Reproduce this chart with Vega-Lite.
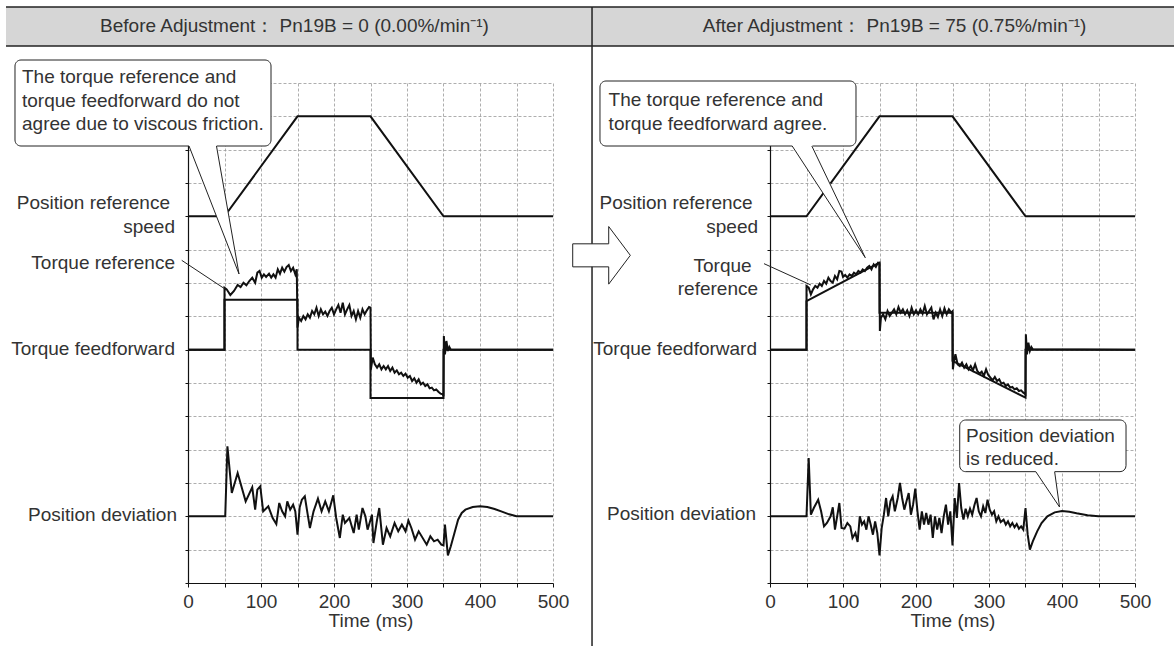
{
  "$schema": "https://vega.github.io/schema/vega-lite/v6.json",
  "padding": {"left": 5, "top": 6, "right": 0, "bottom": 0},
  "spacing": 217,
  "bounds": "flush",
  "config": {
    "view": {"stroke": null},
    "font": "Liberation Sans",
    "axis": {
      "domainColor": "#111", "domainWidth": 1.2, "tickColor": "#111", "tickWidth": 1,
      "labelFont": "Liberation Sans", "labelFontSize": 19, "labelColor": "#333",
      "titleFont": "Liberation Sans", "titleFontSize": 19, "titleFontWeight": "normal", "titleColor": "#333",
      "gridColor": "#999", "gridDash": [3, 2], "gridWidth": 0.8
    },
    "text": {"font": "Liberation Sans", "fontSize": 19, "fill": "#333"}
  },
  "hconcat": [
    {
      "width": 365, "height": 500,
      "encoding": {
        "x": {"field": "t", "type": "quantitative", "scale": {"domain": [0, 500], "nice": false, "zero": false},
          "axis": {"values": [0, 50, 100, 150, 200, 250, 300, 350, 400, 450, 500], "labelExpr": "datum.value % 100 === 0 ? datum.label : ''", "title": "Time (ms)", "grid": true, "tickSize": 4, "labelPadding": 5, "titlePadding": 0, "labelFlush": false, "labelOverlap": false}},
        "y": {"field": "v", "type": "quantitative", "scale": {"domain": [0, 15], "nice": false, "zero": false},
          "axis": {"values": [0, 1, 2, 3, 4, 5, 6, 7, 8, 9, 10, 11, 12, 13, 14, 15], "labels": false, "title": null, "grid": true, "tickSize": 3}}
      },
      "layer": [
        {"data": {"values": [{"t": -249.3, "t2": 553.4, "v": 17.28, "v2": 16.11}]},
          "mark": {"type": "rect", "fill": "#d6d6d6", "stroke": null},
          "encoding": {"x2": {"field": "t2"}, "y2": {"field": "v2"}}},
        {"data": {"values": [{"t": -249.3, "t2": 553.4, "v": 17.28}, {"t": -249.3, "t2": 553.4, "v": 16.11}]},
          "mark": {"type": "rule", "color": "#222", "strokeWidth": 1.5},
          "encoding": {"x2": {"field": "t2"}}},
        {"data": {"values": [{"t": 145.9, "v": 16.7, "txt": "Before Adjustment： Pn19B = 0 (0.00%/min⁻¹)"}]},
          "mark": {"type": "text", "align": "center", "baseline": "middle"},
          "encoding": {"text": {"field": "txt"}}},
        {"data": {"values": [
          {"s": "spd", "t": 0, "v": 11}, {"s": "spd", "t": 50, "v": 11}, {"s": "spd", "t": 150, "v": 14}, {"s": "spd", "t": 250, "v": 14}, {"s": "spd", "t": 350, "v": 11}, {"s": "spd", "t": 500, "v": 11},
          {"s": "ff", "t": 0, "v": 7}, {"s": "ff", "t": 50, "v": 7}, {"s": "ff", "t": 50, "v": 8.5}, {"s": "ff", "t": 150, "v": 8.5}, {"s": "ff", "t": 150, "v": 7}, {"s": "ff", "t": 250, "v": 7}, {"s": "ff", "t": 250, "v": 5.55}, {"s": "ff", "t": 350, "v": 5.55}, {"s": "ff", "t": 350, "v": 7}, {"s": "ff", "t": 500, "v": 7},
          {"s": "ref", "t": 0, "v": 7}, {"s": "ref", "t": 50, "v": 7}, {"s": "ref", "t": 50, "v": 8.86}, {"s": "ref", "t": 53, "v": 8.81}, {"s": "ref", "t": 58, "v": 8.64}, {"s": "ref", "t": 63, "v": 8.76}, {"s": "ref", "t": 68, "v": 8.94}, {"s": "ref", "t": 72, "v": 8.88}, {"s": "ref", "t": 76, "v": 9.01}, {"s": "ref", "t": 80, "v": 8.93}, {"s": "ref", "t": 84, "v": 9.06}, {"s": "ref", "t": 88, "v": 9.16}, {"s": "ref", "t": 92, "v": 9.01}, {"s": "ref", "t": 95, "v": 9.31}, {"s": "ref", "t": 98, "v": 9.36}, {"s": "ref", "t": 101, "v": 9.16}, {"s": "ref", "t": 104, "v": 9.26}, {"s": "ref", "t": 107, "v": 9.18}, {"s": "ref", "t": 111, "v": 9.28}, {"s": "ref", "t": 114, "v": 9.16}, {"s": "ref", "t": 117, "v": 9.26}, {"s": "ref", "t": 120, "v": 9.16}, {"s": "ref", "t": 123, "v": 9.41}, {"s": "ref", "t": 126, "v": 9.28}, {"s": "ref", "t": 129, "v": 9.46}, {"s": "ref", "t": 132, "v": 9.34}, {"s": "ref", "t": 135, "v": 9.48}, {"s": "ref", "t": 138, "v": 9.54}, {"s": "ref", "t": 141, "v": 9.36}, {"s": "ref", "t": 144, "v": 9.46}, {"s": "ref", "t": 147, "v": 9.26}, {"s": "ref", "t": 149, "v": 9.41}, {"s": "ref", "t": 150, "v": 7.66}, {"s": "ref", "t": 152, "v": 7.96}, {"s": "ref", "t": 155, "v": 7.86}, {"s": "ref", "t": 158, "v": 8.01}, {"s": "ref", "t": 161, "v": 7.91}, {"s": "ref", "t": 164, "v": 8.06}, {"s": "ref", "t": 167, "v": 7.96}, {"s": "ref", "t": 170, "v": 8.16}, {"s": "ref", "t": 173, "v": 8.06}, {"s": "ref", "t": 176, "v": 8.26}, {"s": "ref", "t": 179, "v": 8.01}, {"s": "ref", "t": 182, "v": 8.21}, {"s": "ref", "t": 185, "v": 8.06}, {"s": "ref", "t": 188, "v": 8.14}, {"s": "ref", "t": 191, "v": 8.01}, {"s": "ref", "t": 194, "v": 8.16}, {"s": "ref", "t": 197, "v": 8.26}, {"s": "ref", "t": 200, "v": 8.06}, {"s": "ref", "t": 203, "v": 8.21}, {"s": "ref", "t": 206, "v": 8.34}, {"s": "ref", "t": 209, "v": 8.11}, {"s": "ref", "t": 212, "v": 8.41}, {"s": "ref", "t": 215, "v": 8.06}, {"s": "ref", "t": 218, "v": 8.21}, {"s": "ref", "t": 221, "v": 8.34}, {"s": "ref", "t": 224, "v": 8.01}, {"s": "ref", "t": 227, "v": 8.16}, {"s": "ref", "t": 230, "v": 7.91}, {"s": "ref", "t": 233, "v": 8.16}, {"s": "ref", "t": 236, "v": 7.96}, {"s": "ref", "t": 239, "v": 8.21}, {"s": "ref", "t": 242, "v": 8.06}, {"s": "ref", "t": 245, "v": 8.18}, {"s": "ref", "t": 248, "v": 8.28}, {"s": "ref", "t": 250, "v": 8.26}, {"s": "ref", "t": 250.5, "v": 6.4}, {"s": "ref", "t": 253, "v": 6.76}, {"s": "ref", "t": 256, "v": 6.56}, {"s": "ref", "t": 259, "v": 6.46}, {"s": "ref", "t": 262, "v": 6.56}, {"s": "ref", "t": 265, "v": 6.41}, {"s": "ref", "t": 268, "v": 6.51}, {"s": "ref", "t": 271, "v": 6.41}, {"s": "ref", "t": 274, "v": 6.51}, {"s": "ref", "t": 277, "v": 6.36}, {"s": "ref", "t": 280, "v": 6.46}, {"s": "ref", "t": 283, "v": 6.31}, {"s": "ref", "t": 286, "v": 6.38}, {"s": "ref", "t": 289, "v": 6.26}, {"s": "ref", "t": 292, "v": 6.31}, {"s": "ref", "t": 295, "v": 6.21}, {"s": "ref", "t": 298, "v": 6.28}, {"s": "ref", "t": 301, "v": 6.16}, {"s": "ref", "t": 304, "v": 6.21}, {"s": "ref", "t": 307, "v": 6.06}, {"s": "ref", "t": 310, "v": 6.14}, {"s": "ref", "t": 313, "v": 6.01}, {"s": "ref", "t": 316, "v": 6.11}, {"s": "ref", "t": 319, "v": 5.96}, {"s": "ref", "t": 322, "v": 6.01}, {"s": "ref", "t": 325, "v": 5.91}, {"s": "ref", "t": 328, "v": 5.96}, {"s": "ref", "t": 331, "v": 5.84}, {"s": "ref", "t": 334, "v": 5.86}, {"s": "ref", "t": 337, "v": 5.78}, {"s": "ref", "t": 340, "v": 5.81}, {"s": "ref", "t": 343, "v": 5.74}, {"s": "ref", "t": 346, "v": 5.68}, {"s": "ref", "t": 349, "v": 5.66}, {"s": "ref", "t": 350, "v": 5.6}, {"s": "ref", "t": 350.5, "v": 7.41}, {"s": "ref", "t": 352, "v": 6.86}, {"s": "ref", "t": 354, "v": 7.26}, {"s": "ref", "t": 356, "v": 6.96}, {"s": "ref", "t": 358, "v": 7.08}, {"s": "ref", "t": 360, "v": 7.0}, {"s": "ref", "t": 500, "v": 7},
          {"s": "dev", "t": 0, "v": 2}, {"s": "dev", "t": 51, "v": 2}, {"s": "dev", "t": 54, "v": 4.1}, {"s": "dev", "t": 60, "v": 2.7}, {"s": "dev", "t": 68, "v": 3.3}, {"s": "dev", "t": 79, "v": 2.45}, {"s": "dev", "t": 88, "v": 2.87}, {"s": "dev", "t": 92, "v": 2.2}, {"s": "dev", "t": 95, "v": 2.8}, {"s": "dev", "t": 99, "v": 2.9}, {"s": "dev", "t": 103, "v": 2.15}, {"s": "dev", "t": 110, "v": 2.3}, {"s": "dev", "t": 116, "v": 1.95}, {"s": "dev", "t": 121, "v": 1.77}, {"s": "dev", "t": 125, "v": 2.4}, {"s": "dev", "t": 129, "v": 2.15}, {"s": "dev", "t": 133, "v": 2.0}, {"s": "dev", "t": 136, "v": 2.45}, {"s": "dev", "t": 140, "v": 2.2}, {"s": "dev", "t": 144, "v": 2.35}, {"s": "dev", "t": 147, "v": 2.15}, {"s": "dev", "t": 150, "v": 1.45}, {"s": "dev", "t": 153, "v": 2.27}, {"s": "dev", "t": 156, "v": 2.5}, {"s": "dev", "t": 160, "v": 2.6}, {"s": "dev", "t": 164, "v": 2.05}, {"s": "dev", "t": 167, "v": 1.65}, {"s": "dev", "t": 172, "v": 2.15}, {"s": "dev", "t": 178, "v": 2.53}, {"s": "dev", "t": 183, "v": 2.15}, {"s": "dev", "t": 188, "v": 2.45}, {"s": "dev", "t": 193, "v": 2.15}, {"s": "dev", "t": 199, "v": 2.63}, {"s": "dev", "t": 203, "v": 1.95}, {"s": "dev", "t": 208, "v": 1.35}, {"s": "dev", "t": 212, "v": 2.05}, {"s": "dev", "t": 215, "v": 1.8}, {"s": "dev", "t": 221, "v": 1.95}, {"s": "dev", "t": 227, "v": 1.5}, {"s": "dev", "t": 231, "v": 2.05}, {"s": "dev", "t": 234, "v": 1.6}, {"s": "dev", "t": 239, "v": 2.25}, {"s": "dev", "t": 243, "v": 2.0}, {"s": "dev", "t": 246, "v": 1.6}, {"s": "dev", "t": 252, "v": 2.05}, {"s": "dev", "t": 254, "v": 1.2}, {"s": "dev", "t": 259, "v": 1.9}, {"s": "dev", "t": 262, "v": 2.25}, {"s": "dev", "t": 267, "v": 1.15}, {"s": "dev", "t": 272, "v": 1.65}, {"s": "dev", "t": 277, "v": 1.4}, {"s": "dev", "t": 283, "v": 1.8}, {"s": "dev", "t": 288, "v": 1.55}, {"s": "dev", "t": 293, "v": 1.75}, {"s": "dev", "t": 298, "v": 1.55}, {"s": "dev", "t": 302, "v": 1.87}, {"s": "dev", "t": 306, "v": 1.65}, {"s": "dev", "t": 311, "v": 1.3}, {"s": "dev", "t": 316, "v": 1.55}, {"s": "dev", "t": 327, "v": 1.15}, {"s": "dev", "t": 332, "v": 1.4}, {"s": "dev", "t": 337, "v": 1.25}, {"s": "dev", "t": 342, "v": 1.3}, {"s": "dev", "t": 347, "v": 1.15}, {"s": "dev", "t": 350, "v": 1.13}, {"s": "dev", "t": 352, "v": 1.75}, {"s": "dev", "t": 356, "v": 0.83}, {"s": "dev", "t": 360, "v": 1.1}, {"s": "dev", "t": 365, "v": 1.5}, {"s": "dev", "t": 370, "v": 1.9}, {"s": "dev", "t": 375, "v": 2.1}, {"s": "dev", "t": 380, "v": 2.2}, {"s": "dev", "t": 390, "v": 2.28}, {"s": "dev", "t": 400, "v": 2.3}, {"s": "dev", "t": 410, "v": 2.28}, {"s": "dev", "t": 420, "v": 2.22}, {"s": "dev", "t": 430, "v": 2.14}, {"s": "dev", "t": 440, "v": 2.06}, {"s": "dev", "t": 450, "v": 2.0}, {"s": "dev", "t": 500, "v": 2.0}
        ]},
          "mark": {"type": "line", "color": "#111", "strokeJoin": "miter"},
          "encoding": {"detail": {"field": "s"}, "order": {"value": null},
            "strokeWidth": {"field": "s", "type": "nominal", "scale": {"domain": ["spd", "ff", "ref", "dev"], "range": [2, 2, 1.2, 1.7]}, "legend": null}}},
        {"data": {"values": [
          {"t": -24.7, "v": 11.4, "txt": "Position reference"}, {"t": -17.8, "v": 10.68, "txt": "speed"},
          {"t": -17.8, "v": 9.6, "txt": "Torque reference"}, {"t": -17.8, "v": 7.02, "txt": "Torque feedforward"},
          {"t": -15.1, "v": 2.04, "txt": "Position deviation"}]},
          "mark": {"type": "text", "align": "right", "baseline": "middle"},
          "encoding": {"text": {"field": "txt"}}},
        {"data": {"values": [{"t": -8.6, "v": 9.68, "t2": 51.4, "v2": 8.81}]},
          "mark": {"type": "rule", "color": "#222", "strokeWidth": 1},
          "encoding": {"x2": {"field": "t2"}, "y2": {"field": "v2"}}},
        {"data": {"values": [{"t": -237, "t2": 113.7, "v": 15.69, "v2": 13.11}]},
          "mark": {"type": "rect", "fill": "white", "stroke": "#222", "strokeWidth": 1, "cornerRadius": 6},
          "encoding": {"x2": {"field": "t2"}, "y2": {"field": "v2"}}},
        {"data": {"values": [{"t": 1.4, "v": 13.16, "v2": 13.11}, {"t": 39, "v": 13.16, "v2": 11.0}, {"t": 69.9, "v": 9.27, "v2": 9.27}]},
          "mark": {"type": "area", "fill": "white", "opacity": 1},
          "encoding": {"y2": {"field": "v2"}}},
        {"data": {"values": [{"t": 1.4, "v": 13.11, "t2": 69.9, "v2": 9.27}, {"t": 39, "v": 13.11, "t2": 69.9, "v2": 9.27}]},
          "mark": {"type": "rule", "color": "#222", "strokeWidth": 1},
          "encoding": {"x2": {"field": "t2"}, "y2": {"field": "v2"}}},
        {"data": {"values": [
          {"t": -227.4, "v": 15.18, "txt": "The torque reference and"},
          {"t": -227.4, "v": 14.46, "txt": "torque feedforward do not"},
          {"t": -227.4, "v": 13.77, "txt": "agree due to viscous friction."}]},
          "mark": {"type": "text", "align": "left", "baseline": "middle"},
          "encoding": {"text": {"field": "txt"}}}
      ]
    },
    {
      "width": 365, "height": 500,
      "encoding": {
        "x": {"field": "t", "type": "quantitative", "scale": {"domain": [0, 500], "nice": false, "zero": false},
          "axis": {"values": [0, 50, 100, 150, 200, 250, 300, 350, 400, 450, 500], "labelExpr": "datum.value % 100 === 0 ? datum.label : ''", "title": "Time (ms)", "grid": true, "tickSize": 4, "labelPadding": 5, "titlePadding": 0, "labelFlush": false, "labelOverlap": false}},
        "y": {"field": "v", "type": "quantitative", "scale": {"domain": [0, 15], "nice": false, "zero": false},
          "axis": {"values": [0, 1, 2, 3, 4, 5, 6, 7, 8, 9, 10, 11, 12, 13, 14, 15], "labels": false, "title": null, "grid": true, "tickSize": 3}}
      },
      "layer": [
        {"data": {"values": [{"t": -243.8, "t2": 554, "v": 17.28, "v2": 16.11}]},
          "mark": {"type": "rect", "fill": "#d6d6d6", "stroke": null},
          "encoding": {"x2": {"field": "t2"}, "y2": {"field": "v2"}}},
        {"data": {"values": [{"t": -243.8, "t2": 554, "v": 17.28}, {"t": -243.8, "t2": 554, "v": 16.11}]},
          "mark": {"type": "rule", "color": "#222", "strokeWidth": 1.5},
          "encoding": {"x2": {"field": "t2"}}},
        {"data": {"values": [{"t": -243.8, "v": 17.28, "v2": -1.9}]},
          "mark": {"type": "rule", "color": "#222", "strokeWidth": 1.5},
          "encoding": {"y2": {"field": "v2"}}},
        {"data": {"values": [{"t": 170.7, "v": 16.7, "txt": "After Adjustment： Pn19B = 75 (0.75%/min⁻¹)"}]},
          "mark": {"type": "text", "align": "center", "baseline": "middle"},
          "encoding": {"text": {"field": "txt"}}},
        {"data": {"values": [{"t": -230.8, "v": 9.83}]},
          "mark": {"type": "point", "shape": "M-1,-0.4L0.25,-0.4L0.25,-1L1,0L0.25,1L0.25,0.4L-1,0.4Z", "filled": true, "fill": "white", "stroke": "#222", "strokeWidth": 1, "size": 3318, "opacity": 1}},
        {"data": {"values": [
          {"s": "spd", "t": 0, "v": 11}, {"s": "spd", "t": 50, "v": 11}, {"s": "spd", "t": 150, "v": 14}, {"s": "spd", "t": 250, "v": 14}, {"s": "spd", "t": 350, "v": 11}, {"s": "spd", "t": 500, "v": 11},
          {"s": "ff", "t": 0, "v": 7}, {"s": "ff", "t": 50, "v": 7}, {"s": "ff", "t": 50, "v": 8.46}, {"s": "ff", "t": 150, "v": 9.61}, {"s": "ff", "t": 150, "v": 8.11}, {"s": "ff", "t": 250, "v": 8.11}, {"s": "ff", "t": 250, "v": 6.66}, {"s": "ff", "t": 350, "v": 5.56}, {"s": "ff", "t": 350, "v": 7}, {"s": "ff", "t": 500, "v": 7},
          {"s": "ref", "t": 0, "v": 7}, {"s": "ref", "t": 50, "v": 7}, {"s": "ref", "t": 50, "v": 8.91}, {"s": "ref", "t": 53, "v": 8.86}, {"s": "ref", "t": 56, "v": 8.66}, {"s": "ref", "t": 59, "v": 8.81}, {"s": "ref", "t": 62, "v": 8.91}, {"s": "ref", "t": 65, "v": 8.86}, {"s": "ref", "t": 68, "v": 8.98}, {"s": "ref", "t": 71, "v": 8.91}, {"s": "ref", "t": 74, "v": 9.06}, {"s": "ref", "t": 77, "v": 8.98}, {"s": "ref", "t": 80, "v": 9.16}, {"s": "ref", "t": 83, "v": 9.06}, {"s": "ref", "t": 86, "v": 9.01}, {"s": "ref", "t": 89, "v": 9.21}, {"s": "ref", "t": 92, "v": 9.11}, {"s": "ref", "t": 95, "v": 9.36}, {"s": "ref", "t": 98, "v": 9.34}, {"s": "ref", "t": 100, "v": 9.18}, {"s": "ref", "t": 103, "v": 9.24}, {"s": "ref", "t": 106, "v": 9.16}, {"s": "ref", "t": 109, "v": 9.26}, {"s": "ref", "t": 112, "v": 9.21}, {"s": "ref", "t": 115, "v": 9.31}, {"s": "ref", "t": 118, "v": 9.26}, {"s": "ref", "t": 121, "v": 9.36}, {"s": "ref", "t": 124, "v": 9.31}, {"s": "ref", "t": 127, "v": 9.41}, {"s": "ref", "t": 130, "v": 9.36}, {"s": "ref", "t": 133, "v": 9.46}, {"s": "ref", "t": 136, "v": 9.51}, {"s": "ref", "t": 139, "v": 9.41}, {"s": "ref", "t": 142, "v": 9.56}, {"s": "ref", "t": 145, "v": 9.48}, {"s": "ref", "t": 148, "v": 9.61}, {"s": "ref", "t": 150, "v": 9.6}, {"s": "ref", "t": 150.5, "v": 7.56}, {"s": "ref", "t": 152, "v": 7.96}, {"s": "ref", "t": 155, "v": 8.06}, {"s": "ref", "t": 158, "v": 7.91}, {"s": "ref", "t": 161, "v": 8.16}, {"s": "ref", "t": 164, "v": 8.01}, {"s": "ref", "t": 167, "v": 8.11}, {"s": "ref", "t": 170, "v": 8.21}, {"s": "ref", "t": 173, "v": 8.06}, {"s": "ref", "t": 176, "v": 8.28}, {"s": "ref", "t": 179, "v": 8.11}, {"s": "ref", "t": 182, "v": 8.21}, {"s": "ref", "t": 185, "v": 8.06}, {"s": "ref", "t": 188, "v": 8.18}, {"s": "ref", "t": 191, "v": 8.01}, {"s": "ref", "t": 194, "v": 8.26}, {"s": "ref", "t": 197, "v": 8.06}, {"s": "ref", "t": 200, "v": 8.18}, {"s": "ref", "t": 203, "v": 8.06}, {"s": "ref", "t": 206, "v": 8.21}, {"s": "ref", "t": 209, "v": 8.08}, {"s": "ref", "t": 212, "v": 8.31}, {"s": "ref", "t": 215, "v": 8.06}, {"s": "ref", "t": 218, "v": 8.16}, {"s": "ref", "t": 221, "v": 8.26}, {"s": "ref", "t": 224, "v": 7.91}, {"s": "ref", "t": 227, "v": 8.11}, {"s": "ref", "t": 230, "v": 7.98}, {"s": "ref", "t": 233, "v": 8.21}, {"s": "ref", "t": 236, "v": 8.01}, {"s": "ref", "t": 239, "v": 8.24}, {"s": "ref", "t": 242, "v": 8.06}, {"s": "ref", "t": 245, "v": 8.21}, {"s": "ref", "t": 248, "v": 8.11}, {"s": "ref", "t": 250, "v": 8.15}, {"s": "ref", "t": 250.5, "v": 6.41}, {"s": "ref", "t": 252, "v": 6.66}, {"s": "ref", "t": 254, "v": 6.86}, {"s": "ref", "t": 257, "v": 6.56}, {"s": "ref", "t": 260, "v": 6.51}, {"s": "ref", "t": 263, "v": 6.61}, {"s": "ref", "t": 266, "v": 6.46}, {"s": "ref", "t": 269, "v": 6.56}, {"s": "ref", "t": 272, "v": 6.41}, {"s": "ref", "t": 275, "v": 6.51}, {"s": "ref", "t": 278, "v": 6.38}, {"s": "ref", "t": 281, "v": 6.56}, {"s": "ref", "t": 284, "v": 6.36}, {"s": "ref", "t": 287, "v": 6.28}, {"s": "ref", "t": 290, "v": 6.34}, {"s": "ref", "t": 293, "v": 6.21}, {"s": "ref", "t": 296, "v": 6.41}, {"s": "ref", "t": 299, "v": 6.24}, {"s": "ref", "t": 302, "v": 6.16}, {"s": "ref", "t": 305, "v": 6.08}, {"s": "ref", "t": 308, "v": 6.18}, {"s": "ref", "t": 311, "v": 6.06}, {"s": "ref", "t": 314, "v": 6.11}, {"s": "ref", "t": 317, "v": 5.98}, {"s": "ref", "t": 320, "v": 6.01}, {"s": "ref", "t": 323, "v": 5.91}, {"s": "ref", "t": 326, "v": 5.96}, {"s": "ref", "t": 329, "v": 5.86}, {"s": "ref", "t": 332, "v": 5.88}, {"s": "ref", "t": 335, "v": 5.81}, {"s": "ref", "t": 338, "v": 5.84}, {"s": "ref", "t": 341, "v": 5.76}, {"s": "ref", "t": 344, "v": 5.78}, {"s": "ref", "t": 347, "v": 5.71}, {"s": "ref", "t": 349, "v": 5.68}, {"s": "ref", "t": 350, "v": 5.66}, {"s": "ref", "t": 350.5, "v": 7.46}, {"s": "ref", "t": 352, "v": 6.86}, {"s": "ref", "t": 354, "v": 7.21}, {"s": "ref", "t": 356, "v": 6.96}, {"s": "ref", "t": 358, "v": 7.08}, {"s": "ref", "t": 360, "v": 7.01}, {"s": "ref", "t": 500, "v": 7},
          {"s": "dev", "t": 0, "v": 2}, {"s": "dev", "t": 50, "v": 2}, {"s": "dev", "t": 53, "v": 3.75}, {"s": "dev", "t": 56, "v": 2.05}, {"s": "dev", "t": 60, "v": 2.25}, {"s": "dev", "t": 66, "v": 2.5}, {"s": "dev", "t": 70, "v": 2.15}, {"s": "dev", "t": 74, "v": 1.7}, {"s": "dev", "t": 78, "v": 1.8}, {"s": "dev", "t": 83, "v": 2.0}, {"s": "dev", "t": 86, "v": 2.27}, {"s": "dev", "t": 89, "v": 1.6}, {"s": "dev", "t": 92, "v": 2.0}, {"s": "dev", "t": 95, "v": 2.4}, {"s": "dev", "t": 98, "v": 1.65}, {"s": "dev", "t": 102, "v": 1.63}, {"s": "dev", "t": 106, "v": 1.8}, {"s": "dev", "t": 110, "v": 1.7}, {"s": "dev", "t": 113, "v": 1.35}, {"s": "dev", "t": 117, "v": 1.5}, {"s": "dev", "t": 120, "v": 1.23}, {"s": "dev", "t": 123, "v": 2.0}, {"s": "dev", "t": 126, "v": 1.75}, {"s": "dev", "t": 129, "v": 1.85}, {"s": "dev", "t": 132, "v": 1.6}, {"s": "dev", "t": 135, "v": 2.0}, {"s": "dev", "t": 138, "v": 1.75}, {"s": "dev", "t": 141, "v": 1.45}, {"s": "dev", "t": 144, "v": 1.85}, {"s": "dev", "t": 147, "v": 1.5}, {"s": "dev", "t": 150, "v": 0.83}, {"s": "dev", "t": 153, "v": 1.65}, {"s": "dev", "t": 156, "v": 2.05}, {"s": "dev", "t": 159, "v": 2.55}, {"s": "dev", "t": 162, "v": 2.0}, {"s": "dev", "t": 165, "v": 2.45}, {"s": "dev", "t": 168, "v": 2.6}, {"s": "dev", "t": 171, "v": 2.15}, {"s": "dev", "t": 175, "v": 2.55}, {"s": "dev", "t": 178, "v": 3.0}, {"s": "dev", "t": 181, "v": 2.55}, {"s": "dev", "t": 184, "v": 2.2}, {"s": "dev", "t": 187, "v": 2.45}, {"s": "dev", "t": 190, "v": 2.7}, {"s": "dev", "t": 193, "v": 2.05}, {"s": "dev", "t": 196, "v": 2.35}, {"s": "dev", "t": 199, "v": 2.83}, {"s": "dev", "t": 202, "v": 2.15}, {"s": "dev", "t": 205, "v": 1.6}, {"s": "dev", "t": 208, "v": 2.15}, {"s": "dev", "t": 211, "v": 1.75}, {"s": "dev", "t": 214, "v": 2.1}, {"s": "dev", "t": 217, "v": 1.75}, {"s": "dev", "t": 220, "v": 2.05}, {"s": "dev", "t": 223, "v": 1.35}, {"s": "dev", "t": 226, "v": 2.0}, {"s": "dev", "t": 229, "v": 1.6}, {"s": "dev", "t": 232, "v": 1.95}, {"s": "dev", "t": 235, "v": 1.5}, {"s": "dev", "t": 238, "v": 2.0}, {"s": "dev", "t": 241, "v": 2.35}, {"s": "dev", "t": 244, "v": 1.75}, {"s": "dev", "t": 247, "v": 2.15}, {"s": "dev", "t": 250, "v": 1.13}, {"s": "dev", "t": 253, "v": 2.55}, {"s": "dev", "t": 256, "v": 1.95}, {"s": "dev", "t": 259, "v": 3.0}, {"s": "dev", "t": 262, "v": 2.25}, {"s": "dev", "t": 265, "v": 1.9}, {"s": "dev", "t": 268, "v": 2.23}, {"s": "dev", "t": 271, "v": 2.0}, {"s": "dev", "t": 274, "v": 2.23}, {"s": "dev", "t": 277, "v": 2.05}, {"s": "dev", "t": 280, "v": 2.33}, {"s": "dev", "t": 283, "v": 2.55}, {"s": "dev", "t": 286, "v": 2.15}, {"s": "dev", "t": 289, "v": 2.0}, {"s": "dev", "t": 292, "v": 2.3}, {"s": "dev", "t": 295, "v": 2.1}, {"s": "dev", "t": 298, "v": 2.5}, {"s": "dev", "t": 301, "v": 2.2}, {"s": "dev", "t": 304, "v": 2.05}, {"s": "dev", "t": 307, "v": 2.15}, {"s": "dev", "t": 310, "v": 1.85}, {"s": "dev", "t": 313, "v": 2.0}, {"s": "dev", "t": 316, "v": 1.83}, {"s": "dev", "t": 320, "v": 1.9}, {"s": "dev", "t": 323, "v": 1.75}, {"s": "dev", "t": 326, "v": 1.85}, {"s": "dev", "t": 329, "v": 1.7}, {"s": "dev", "t": 332, "v": 1.8}, {"s": "dev", "t": 335, "v": 1.67}, {"s": "dev", "t": 338, "v": 1.77}, {"s": "dev", "t": 341, "v": 1.63}, {"s": "dev", "t": 344, "v": 1.7}, {"s": "dev", "t": 347, "v": 1.6}, {"s": "dev", "t": 350, "v": 2.25}, {"s": "dev", "t": 353, "v": 1.45}, {"s": "dev", "t": 356, "v": 1.0}, {"s": "dev", "t": 360, "v": 1.25}, {"s": "dev", "t": 366, "v": 1.55}, {"s": "dev", "t": 372, "v": 1.8}, {"s": "dev", "t": 380, "v": 2.0}, {"s": "dev", "t": 390, "v": 2.12}, {"s": "dev", "t": 400, "v": 2.16}, {"s": "dev", "t": 410, "v": 2.14}, {"s": "dev", "t": 420, "v": 2.09}, {"s": "dev", "t": 435, "v": 2.03}, {"s": "dev", "t": 450, "v": 2.0}, {"s": "dev", "t": 500, "v": 2.0}
        ]},
          "mark": {"type": "line", "color": "#111", "strokeJoin": "miter"},
          "encoding": {"detail": {"field": "s"}, "order": {"value": null},
            "strokeWidth": {"field": "s", "type": "nominal", "scale": {"domain": ["spd", "ff", "ref", "dev"], "range": [2, 2, 1.2, 1.7]}, "legend": null}}},
        {"data": {"values": [
          {"t": -23.7, "v": 11.41, "txt": "Position reference"}, {"t": -16.4, "v": 10.68, "txt": "speed"},
          {"t": -25.2, "v": 9.51, "txt": "Torque"}, {"t": -16.4, "v": 8.82, "txt": "reference"},
          {"t": -17.8, "v": 7.02, "txt": "Torque feedforward"}, {"t": -19.2, "v": 2.07, "txt": "Position deviation"}]},
          "mark": {"type": "text", "align": "right", "baseline": "middle"},
          "encoding": {"text": {"field": "txt"}}},
        {"data": {"values": [{"t": -8.2, "v": 9.58, "t2": 56, "v2": 8.94}]},
          "mark": {"type": "rule", "color": "#222", "strokeWidth": 1},
          "encoding": {"x2": {"field": "t2"}, "y2": {"field": "v2"}}},
        {"data": {"values": [{"t": -232.9, "t2": 117.8, "v": 15.06, "v2": 13.11}, {"t": 259.9, "t2": 487.7, "v": 4.89, "v2": 3.34}]},
          "mark": {"type": "rect", "fill": "white", "stroke": "#222", "strokeWidth": 1, "cornerRadius": 6},
          "encoding": {"x2": {"field": "t2"}, "y2": {"field": "v2"}}},
        {"data": {"values": [
          {"k": "a", "t": 30.4, "v": 13.16, "v2": 13.11}, {"k": "a", "t": 57.3, "v": 13.16, "v2": 12.21}, {"k": "a", "t": 130.5, "v": 9.76, "v2": 9.76},
          {"k": "b", "t": 364.1, "v": 3.39, "v2": 3.34}, {"k": "b", "t": 389.9, "v": 3.39, "v2": 2.5}, {"k": "b", "t": 396.6, "v": 2.28, "v2": 2.28}]},
          "mark": {"type": "area", "fill": "white", "opacity": 1},
          "encoding": {"y2": {"field": "v2"}, "detail": {"field": "k"}}},
        {"data": {"values": [
          {"t": 30.4, "v": 13.11, "t2": 130.5, "v2": 9.76}, {"t": 57.3, "v": 13.11, "t2": 130.5, "v2": 9.76},
          {"t": 364.1, "v": 3.34, "t2": 396.6, "v2": 2.28}, {"t": 389.9, "v": 3.34, "t2": 396.6, "v2": 2.28}]},
          "mark": {"type": "rule", "color": "#222", "strokeWidth": 1},
          "encoding": {"x2": {"field": "t2"}, "y2": {"field": "v2"}}},
        {"data": {"values": [
          {"t": -221.1, "v": 14.49, "txt": "The torque reference and"},
          {"t": -221.1, "v": 13.77, "txt": "torque feedforward agree."},
          {"t": 268.5, "v": 4.41, "txt": "Position deviation"},
          {"t": 268.5, "v": 3.71, "txt": "is reduced."}]},
          "mark": {"type": "text", "align": "left", "baseline": "middle"},
          "encoding": {"text": {"field": "txt"}}}
      ]
    }
  ]
}
